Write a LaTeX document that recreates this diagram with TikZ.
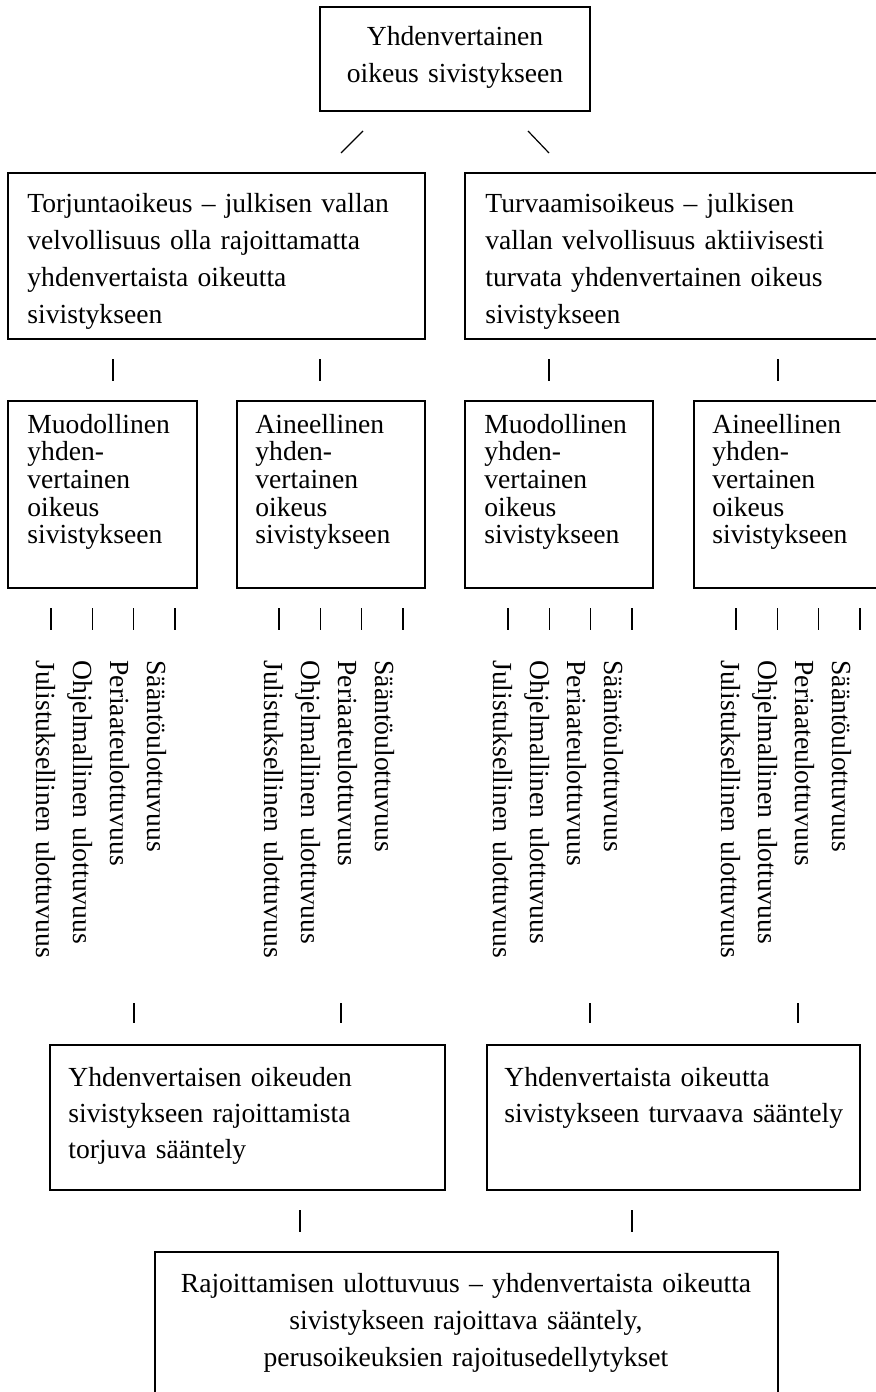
\documentclass[tikz,border=0pt]{standalone}
\usepackage{fontspec}
\setmainfont{Liberation Serif}
\usetikzlibrary{fit}

\begin{document}
\begin{tikzpicture}[x=0.5pt,y=-0.5pt,
  box/.style={draw, line width=0.8pt, inner sep=0pt},
  tick/.style={line width=0.6pt},
  txt/.style={inner sep=0pt, anchor=base west, align=left, text width=215pt},
  ctxt/.style={inner sep=0pt, anchor=base, align=center, text width=300pt},
  wide/.style={font=\fontsize{13.8pt}{18.5pt}\selectfont},
  mid/.style={font=\fontsize{13.8pt}{18pt}\selectfont},
  tight/.style={font=\fontsize{13.8pt}{13.85pt}\selectfont},
  rot/.style={inner sep=0pt, anchor=base west, rotate=-90, align=left,
    text width=170pt, font=\fontsize{13.8pt}{18.5pt}\selectfont}]

\useasboundingbox (0,0) rectangle (876,1392);
\clip (0,0) rectangle (876,1392);

% top level
\node[box, fit={(320,7) (590,111)}] (top) {};
\node[ctxt, mid] (topT) at (455,46) {Yhdenvertainen\\oikeus sivistykseen};

\coordinate (dLa) at (363,131); \coordinate (dLb) at (341,153);
\coordinate (dRa) at (528,131); \coordinate (dRb) at (549,153);
\draw[tick] (dLa) -- (dLb);
\draw[tick] (dRa) -- (dRb);

% second level
\node[box, fit={(8,173) (425,339)}] (torj) {};
\node[txt, wide] (torjT) at (27,212) {Torjuntaoikeus – julkisen vallan\\velvollisuus olla rajoittamatta\\yhdenvertaista oikeutta\\sivistykseen};
\node[box, fit={(465,173) (890,339)}] (turv) {};
\node[txt, wide] (turvT) at (485,212) {Turvaamisoikeus – julkisen\\vallan velvollisuus aktiivisesti\\turvata yhdenvertainen oikeus\\sivistykseen};

% ticks above the third level
\foreach \i/\x in {1/113, 2/320, 3/549, 4/778} {
  \coordinate (ua\i) at (\x,359); \coordinate (ub\i) at (\x,381);
  \draw[tick] (ua\i) -- (ub\i);
}

% third level
\node[box, fit={(8,401) (197,588)}] (m1) {};
\node[txt, tight] (m1T) at (27,433) {Muodollinen\\yhden-\\vertainen\\oikeus\\sivistykseen};
\node[box, fit={(237,401) (425,588)}] (a1) {};
\node[txt, tight] (a1T) at (255,433) {Aineellinen\\yhden-\\vertainen\\oikeus\\sivistykseen};
\node[box, fit={(465,401) (653,588)}] (m2) {};
\node[txt, tight] (m2T) at (484,433) {Muodollinen\\yhden-\\vertainen\\oikeus\\sivistykseen};
\node[box, fit={(694,401) (890,588)}] (a2) {};
\node[txt, tight] (a2T) at (712,433) {Aineellinen\\yhden-\\vertainen\\oikeus\\sivistykseen};

% four dimensions under each box
\foreach \g/\x in {1/51, 2/279, 3/508, 4/736} {
  \foreach \k in {0,1,2,3} {
    \coordinate (va\g\k) at ({\x+41.3*\k},608);
    \coordinate (vb\g\k) at ({\x+41.3*\k},630);
    \draw[tick] (va\g\k) -- (vb\g\k);
  }
  \node[rot] (dim\g) at ({\x+96},660) {Sääntöulottuvuus\\Periaateulottuvuus\\Ohjelmallinen ulottuvuus\\Julistuksellinen ulottuvuus};
}

% ticks above the regulation boxes
\foreach \i/\x in {1/134, 2/341, 3/590, 4/798} {
  \coordinate (wa\i) at (\x,1003); \coordinate (wb\i) at (\x,1023);
  \draw[tick] (wa\i) -- (wb\i);
}

% regulation level
\node[box, fit={(50,1045) (445,1190)}] (torjS) {};
\node[txt, mid] (torjST) at (68,1086) {Yhdenvertaisen oikeuden\\sivistykseen rajoittamista\\torjuva sääntely};
\node[box, fit={(487,1045) (860,1190)}] (turvS) {};
\node[txt, mid] (turvST) at (504,1086) {Yhdenvertaista oikeutta\\sivistykseen turvaava sääntely};

% ticks above the bottom box
\foreach \i/\x in {1/300, 2/632} {
  \coordinate (za\i) at (\x,1210); \coordinate (zb\i) at (\x,1232);
  \draw[tick] (za\i) -- (zb\i);
}

% bottom level
\node[box, fit={(155,1252) (778,1410)}] (raj) {};
\node[ctxt, wide] (rajT) at (466,1292) {Rajoittamisen ulottuvuus – yhdenvertaista oikeutta\\sivistykseen rajoittava sääntely,\\perusoikeuksien rajoitusedellytykset};

\end{tikzpicture}
\end{document}
